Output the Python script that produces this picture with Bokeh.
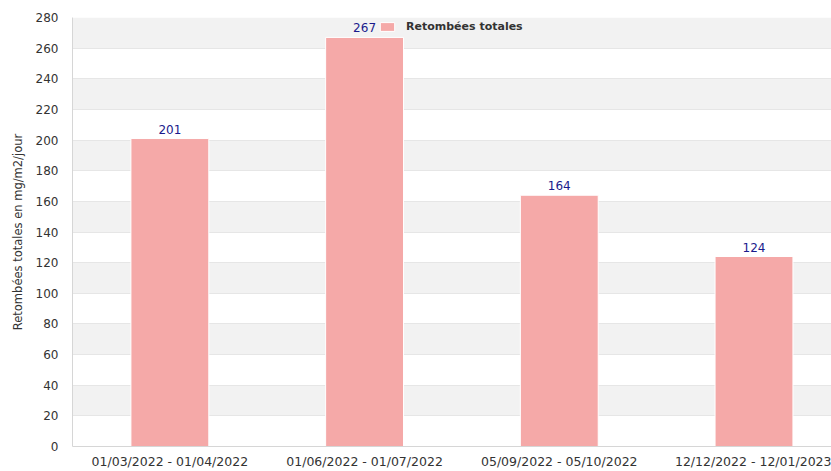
from bokeh.plotting import figure
from bokeh.models import ColumnDataSource, Range1d, FixedTicker, SingleIntervalTicker, LabelSet, Legend, LegendItem
from bokeh.core.properties import value
from bokeh.embed import file_html
from bokeh.resources import INLINE

# Data
periods = ["01/03/2022 - 01/04/2022", "01/06/2022 - 01/07/2022",
           "05/09/2022 - 05/10/2022", "12/12/2022 - 12/01/2023"]
values = [201, 267, 164, 124]
series_name = "Retombées totales"
y_title = "Retombées totales en mg/m2/jour"

FONT = "DejaVu Sans"

xpos = [i + 0.5 for i in range(len(periods))]
src = ColumnDataSource(dict(x=xpos, top=values, label=[str(v) for v in values]))

p = figure(width=831, height=471, output_backend="svg", toolbar_location=None,
           x_range=Range1d(0, 3.898), y_range=Range1d(0, 280))
p.min_border_left = 72
p.min_border_right = 0
p.min_border_top = 17
p.min_border_bottom = 24
p.outline_line_color = None
p.background_fill_color = "white"
p.border_fill_color = "white"

bars = p.vbar(x="x", top="top", width=0.4, bottom=0, source=src,
              fill_color="#f5a9a8", line_color="white", line_width=1)

labels = LabelSet(x="x", y="top", text="label", source=src, text_align="center",
                  text_baseline="alphabetic", y_offset=5, text_font=value(FONT),
                  text_font_size="12px", text_color="#1a1a8c")
p.add_layout(labels)

# legend at the top of the plot area
legend = Legend(items=[LegendItem(label=series_name, renderers=[bars])],
                location=(306, 413), orientation="horizontal",
                padding=0, margin=0, spacing=0,
                glyph_width=18, glyph_height=11, label_height=14,
                label_standoff=10, label_text_font=FONT,
                label_text_font_size="11px", label_text_font_style="bold",
                label_text_color="#333333",
                background_fill_alpha=0, border_line_color=None)
p.add_layout(legend, "center")

# x axis
p.xaxis.ticker = FixedTicker(ticks=xpos)
p.xaxis.major_label_overrides = {x: lab for x, lab in zip(xpos, periods)}
p.xaxis.major_tick_in = 0
p.xaxis.major_tick_out = 0
p.xaxis.minor_tick_line_color = None
p.xaxis.major_label_standoff = 7
p.xaxis.major_label_text_font = FONT
p.xaxis.major_label_text_font_size = "12.5px"
p.xaxis.major_label_text_color = "#333333"
p.xaxis.axis_line_color = "#d6d6d6"
p.xgrid.grid_line_color = None

# y axis
p.yaxis.ticker = SingleIntervalTicker(interval=20)
p.yaxis.major_tick_in = 0
p.yaxis.major_tick_out = 0
p.yaxis.minor_tick_line_color = None
p.yaxis.major_label_standoff = 10
p.yaxis.major_label_text_font = FONT
p.yaxis.major_label_text_font_size = "12px"
p.yaxis.major_label_text_color = "#333333"
p.yaxis.axis_line_color = "#d6d6d6"
p.yaxis.axis_label = y_title
p.yaxis.axis_label_text_font = FONT
p.yaxis.axis_label_text_font_size = "11.5px"
p.yaxis.axis_label_text_font_style = "normal"
p.yaxis.axis_label_text_color = "#333333"
p.yaxis.axis_label_standoff = 8

p.ygrid.grid_line_color = "#e6e6e6"
p.ygrid.band_fill_color = "#f2f2f2"
p.ygrid.band_fill_alpha = 1.0

open("out.html", "w").write(file_html(p, INLINE))
